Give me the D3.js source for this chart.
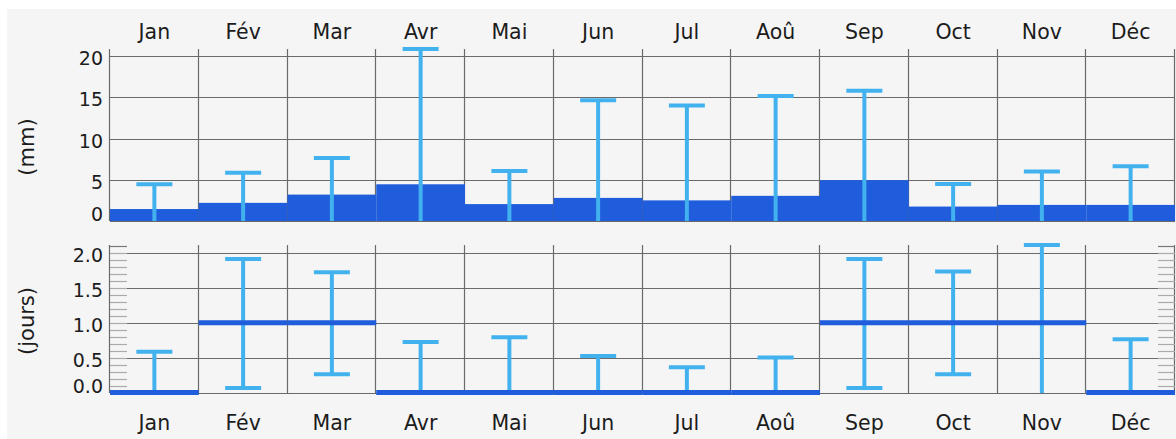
<!DOCTYPE html>
<html>
<head>
<meta charset="utf-8">
<script src="https://cdn.jsdelivr.net/npm/d3@7"></script>
<style>
  html, body { margin: 0; padding: 0; background: #ffffff; }
  svg { display: block; }
  text { font-family: "DejaVu Sans", sans-serif; fill: #1c1c1c; }
</style>
</head>
<body>
<svg id="chart" width="1176" height="439"></svg>
<script>
// ---- Data ----
const months = ["Jan", "Fév", "Mar", "Avr", "Mai", "Jun", "Jul", "Aoû", "Sep", "Oct", "Nov", "Déc"];
// Precipitation (mm)
const precip     = [1.45, 2.2, 3.2, 4.45, 2.05, 2.8, 2.5, 3.05, 4.95, 1.75, 1.95, 1.95];
const precipHigh = [4.45, 5.85, 7.65, 20.85, 6.05, 14.65, 14.0, 15.15, 15.8, 4.5, 6.0, 6.65];
const precipLow  = [0, 0, 0, 0, 0, 0, 0, 0, 0, 0, 0, 0];
const precipTicks = [0, 5, 10, 15, 20];
// Rain days (jours)
const days     = [0, 1, 1, 0, 0, 0, 0, 0, 1, 1, 1, 0];
const daysHigh = [0.59, 1.92, 1.73, 0.73, 0.8, 0.53, 0.37, 0.51, 1.92, 1.74, 2.12, 0.77];
const daysLow  = [0, 0.07, 0.27, 0, 0, 0, 0, 0, 0.07, 0.27, 0, 0];
const daysTicks = [0.0, 0.5, 1.0, 1.5, 2.0];
const daysMinorTicks = d3.range(0, 22).map(i => i / 10);

// ---- Layout ----
const W = 1176, H = 439;
const left = 110, right = 1175;
const barColor = "#1f5ddc";
const whiskerColor = "#42b2ef";
const gridColor = "#6a6a6a";

const svg = d3.select("#chart");
svg.append("rect").attr("x", 7).attr("y", 9).attr("width", W - 7).attr("height", H - 9).attr("fill", "#f5f5f5");

const x = d3.scaleBand().domain(months).range([left, right]).padding(0);
const cx = m => x(m) + x.bandwidth() / 2;

const yTop = d3.scaleLinear().domain([0, 20.85]).range([221, 49]);
const yBot = d3.scaleLinear().domain([0, 2.12]).range([393, 245]);

function panel(y, ticks, fmt, opts) {
  const g = svg.append("g");
  const [y0, y1] = y.range();
  // horizontal gridlines
  g.selectAll("line.h").data(ticks).join("line")
    .attr("x1", left).attr("x2", right)
    .attr("y1", d => Math.round(y(d)) + 0.5).attr("y2", d => Math.round(y(d)) + 0.5)
    .attr("stroke", gridColor).attr("stroke-width", 1.2);
  // vertical dividers
  const xs = months.map(m => x(m)).concat([right]);
  g.selectAll("line.v").data(xs).join("line")
    .attr("x1", d => Math.round(d) - 0.5).attr("x2", d => Math.round(d) - 0.5)
    .attr("y1", y1).attr("y2", y0)
    .attr("stroke", gridColor).attr("stroke-width", 1.2);
  // tick labels
  g.selectAll("text.tl").data(ticks).join("text")
    .attr("x", 103)
    .attr("y", (d, i) => i === 0 ? y0 - 0.5 : y(d) + 9)
    .attr("text-anchor", "end")
    .attr("font-size", 19)
    .text(fmt);
  // axis title
  g.append("text")
    .attr("transform", `translate(${opts.titleX},${opts.titleY}) rotate(-90)`)
    .attr("text-anchor", "middle")
    .attr("dominant-baseline", "central")
    .attr("font-size", 21)
    .text(opts.title);
  return g;
}

// ---- Top panel: precipitation ----
const gTop = panel(yTop, precipTicks, d => d3.format("d")(d), { title: "(mm)", titleX: 27, titleY: 147 });
gTop.selectAll("rect.bar").data(months).join("rect")
  .attr("x", m => x(m)).attr("width", x.bandwidth())
  .attr("y", (m, i) => yTop(precip[i]))
  .attr("height", (m, i) => yTop(0) - yTop(precip[i]))
  .attr("fill", barColor);

function whiskers(g, y, high, low) {
  const domMin = y.domain()[0];
  const capW = 36;
  g.selectAll(null).data(months).join("line")
    .attr("x1", m => cx(m)).attr("x2", m => cx(m))
    .attr("y1", (m, i) => y(low[i])).attr("y2", (m, i) => y(high[i]))
    .attr("stroke", whiskerColor).attr("stroke-width", 4);
  g.selectAll(null).data(months).join("line")
    .attr("x1", m => cx(m) - capW / 2).attr("x2", m => cx(m) + capW / 2)
    .attr("y1", (m, i) => y(high[i])).attr("y2", (m, i) => y(high[i]))
    .attr("stroke", whiskerColor).attr("stroke-width", 4);
  g.selectAll(null).data(months.filter((m, i) => low[i] > domMin)).join("line")
    .attr("x1", m => cx(m) - capW / 2).attr("x2", m => cx(m) + capW / 2)
    .attr("y1", m => y(low[months.indexOf(m)])).attr("y2", m => y(low[months.indexOf(m)]))
    .attr("stroke", whiskerColor).attr("stroke-width", 4);
}
whiskers(gTop, yTop, precipHigh, precipLow);

// month labels top
svg.append("g").selectAll("text").data(months).join("text")
  .attr("x", m => cx(m)).attr("y", 39)
  .attr("text-anchor", "middle").attr("font-size", 20.5)
  .text(m => m);

// ---- Bottom panel: rain days ----
const gBot = panel(yBot, daysTicks, d => d3.format(".1f")(d), { title: "(jours)", titleX: 27, titleY: 321 });
// minor ticks on both sides
[[left, left + 17], [right - 17, right]].forEach(([a, b]) => {
  gBot.append("g").selectAll("line").data(daysMinorTicks).join("line")
    .attr("x1", a).attr("x2", b)
    .attr("y1", d => Math.round(yBot(d)) + 0.5).attr("y2", d => Math.round(yBot(d)) + 0.5)
    .attr("stroke", (d, i) => i === daysMinorTicks.length - 1 ? "#777" : "#aaa")
    .attr("stroke-width", 1.2);
});
whiskers(gBot, yBot, daysHigh, daysLow);
gBot.selectAll("line.lvl").data(months).join("line")
  .attr("x1", m => x(m)).attr("x2", m => x(m) + x.bandwidth())
  .attr("y1", (m, i) => yBot(days[i]) - 0.5).attr("y2", (m, i) => yBot(days[i]) - 0.5)
  .attr("stroke", barColor).attr("stroke-width", 5);

// month labels bottom
svg.append("g").selectAll("text").data(months).join("text")
  .attr("x", m => cx(m)).attr("y", 430)
  .attr("text-anchor", "middle").attr("font-size", 20.5)
  .text(m => m);
</script>
</body>
</html>
